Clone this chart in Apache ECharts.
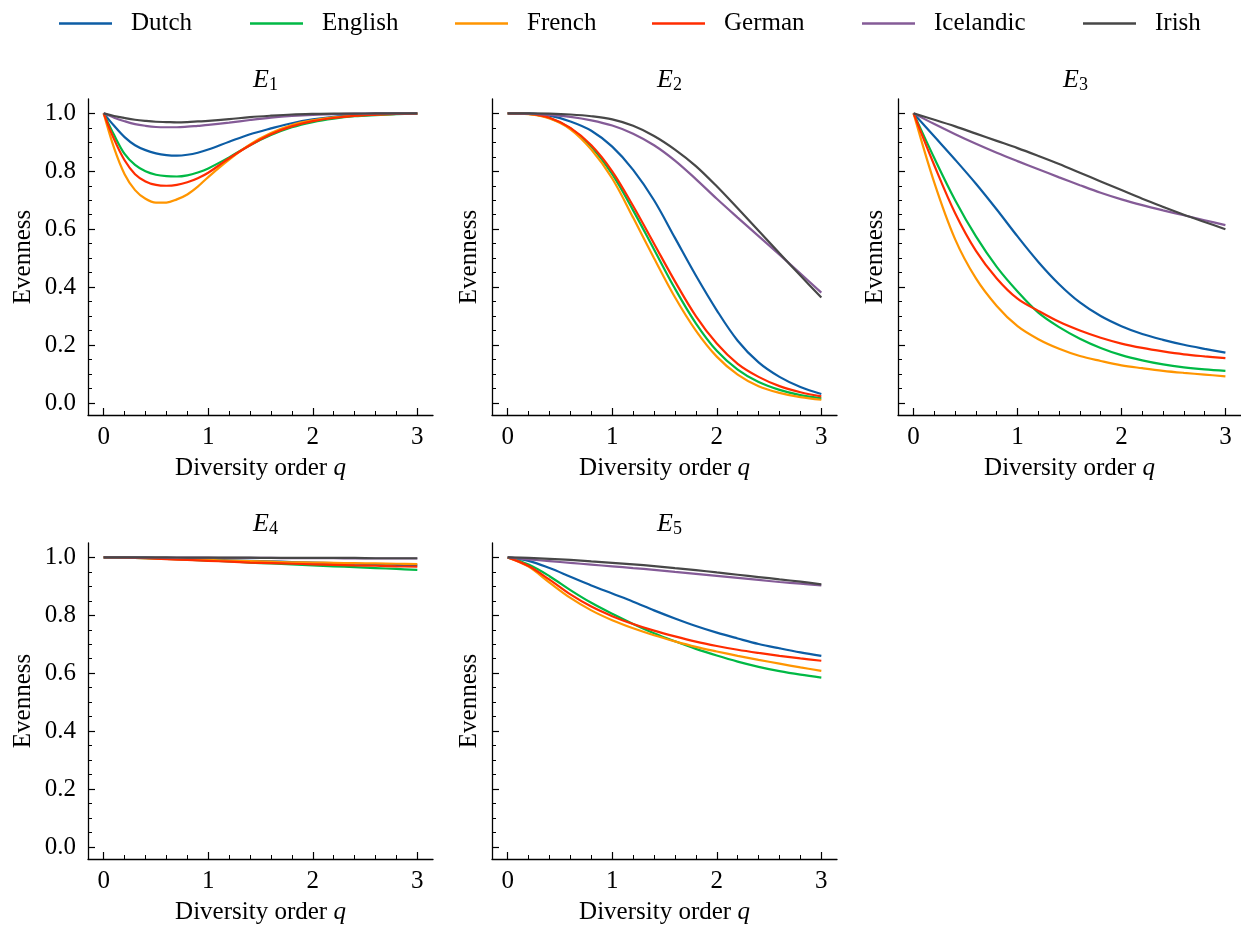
<!DOCTYPE html>
<html>
<head>
<meta charset="utf-8">
<script src="https://cdn.jsdelivr.net/npm/echarts@6/dist/echarts.min.js"></script>
</head>
<body style="margin:0">
<div id="container" style="width:1241px;height:926px"></div>
<script>
// diversity order q, read at steps of 0.2 (finer near the dip for E1)
var q = [0, 0.2, 0.4, 0.6, 0.8, 1.0, 1.2, 1.4, 1.6, 1.8, 2.0, 2.2, 2.4, 2.6, 2.8, 3.0];
var qFine = [0, 0.1, 0.2, 0.3, 0.4, 0.5, 0.6, 0.7, 0.8, 0.9, 1.0, 1.2, 1.4, 1.6, 1.8, 2.0, 2.2, 2.4, 2.6, 2.8, 3.0];
var languages = ['Dutch', 'English', 'French', 'German', 'Icelandic', 'Irish'];
var colors = ['#0C5DA5', '#00B945', '#FF9500', '#FF2C00', '#845B97', '#474747'];
var xTicks = [0, 1, 2, 3];
var yTicks = [0, 0.2, 0.4, 0.6, 0.8, 1.0];

// E1 (on qFine)
var e1Dutch     = [1.0, 0.957, 0.918, 0.89, 0.873, 0.862, 0.856, 0.854, 0.857, 0.864, 0.875, 0.902, 0.928, 0.948, 0.966, 0.979, 0.988, 0.993, 0.996, 0.998, 0.999];
var e1English   = [1.0, 0.925, 0.86, 0.822, 0.80, 0.788, 0.783, 0.782, 0.786, 0.796, 0.81, 0.848, 0.89, 0.925, 0.952, 0.97, 0.982, 0.99, 0.994, 0.997, 0.999];
var e1French    = [1.0, 0.88, 0.79, 0.735, 0.705, 0.692, 0.692, 0.703, 0.72, 0.747, 0.78, 0.84, 0.893, 0.932, 0.96, 0.976, 0.986, 0.992, 0.996, 0.998, 0.999];
var e1German    = [1.0, 0.91, 0.838, 0.79, 0.765, 0.753, 0.75, 0.753, 0.762, 0.776, 0.795, 0.845, 0.89, 0.928, 0.955, 0.973, 0.984, 0.991, 0.995, 0.998, 0.999];
var e1Icelandic = [1.0, 0.985, 0.973, 0.963, 0.957, 0.953, 0.952, 0.952, 0.954, 0.957, 0.96, 0.968, 0.977, 0.985, 0.991, 0.995, 0.997, 0.999, 1.0, 1.0, 1.0];
var e1Irish     = [1.0, 0.991, 0.984, 0.978, 0.974, 0.971, 0.970, 0.969, 0.970, 0.972, 0.974, 0.980, 0.987, 0.992, 0.996, 0.998, 0.999, 0.999, 1.0, 1.0, 1.0];

// E2
var e2Dutch     = [1.0, 0.999, 0.992, 0.972, 0.94, 0.885, 0.805, 0.70, 0.57, 0.44, 0.32, 0.215, 0.14, 0.09, 0.055, 0.031];
var e2English   = [1.0, 0.998, 0.984, 0.948, 0.885, 0.79, 0.665, 0.53, 0.395, 0.275, 0.18, 0.115, 0.072, 0.045, 0.027, 0.016];
var e2French    = [1.0, 0.997, 0.982, 0.945, 0.875, 0.775, 0.64, 0.50, 0.365, 0.25, 0.16, 0.098, 0.058, 0.035, 0.02, 0.011];
var e2German    = [1.0, 0.998, 0.985, 0.95, 0.89, 0.80, 0.68, 0.55, 0.42, 0.30, 0.205, 0.135, 0.09, 0.058, 0.037, 0.023];
var e2Icelandic = [1.0, 0.999, 0.995, 0.988, 0.976, 0.958, 0.93, 0.89, 0.837, 0.773, 0.705, 0.64, 0.576, 0.512, 0.447, 0.381];
var e2Irish     = [1.0, 1.0, 0.999, 0.996, 0.99, 0.979, 0.957, 0.922, 0.875, 0.818, 0.748, 0.672, 0.595, 0.517, 0.44, 0.364];

// E3
var e3Dutch     = [1.0, 0.92, 0.84, 0.757, 0.668, 0.575, 0.487, 0.41, 0.347, 0.30, 0.265, 0.238, 0.218, 0.201, 0.187, 0.174];
var e3English   = [1.0, 0.845, 0.70, 0.575, 0.47, 0.385, 0.312, 0.262, 0.222, 0.19, 0.165, 0.147, 0.133, 0.123, 0.116, 0.111];
var e3French    = [1.0, 0.76, 0.565, 0.43, 0.335, 0.265, 0.22, 0.187, 0.162, 0.145, 0.13, 0.12, 0.111, 0.104, 0.098, 0.092];
var e3German    = [1.0, 0.82, 0.655, 0.525, 0.43, 0.36, 0.318, 0.28, 0.25, 0.225, 0.205, 0.19, 0.178, 0.168, 0.161, 0.155];
var e3Icelandic = [1.0, 0.963, 0.928, 0.895, 0.864, 0.835, 0.807, 0.779, 0.752, 0.726, 0.703, 0.683, 0.665, 0.648, 0.631, 0.614];
var e3Irish     = [1.0, 0.978, 0.955, 0.93, 0.905, 0.88, 0.853, 0.825, 0.795, 0.765, 0.735, 0.705, 0.677, 0.65, 0.625, 0.60];

// E4
var e4Dutch     = [1.0, 0.999, 0.998, 0.996, 0.994, 0.992, 0.99, 0.988, 0.986, 0.984, 0.982, 0.98, 0.978, 0.976, 0.974, 0.972];
var e4English   = [1.0, 0.999, 0.997, 0.995, 0.992, 0.989, 0.986, 0.982, 0.979, 0.976, 0.972, 0.969, 0.966, 0.963, 0.96, 0.957];
var e4French    = [1.0, 0.999, 0.997, 0.995, 0.993, 0.991, 0.989, 0.987, 0.985, 0.983, 0.982, 0.981, 0.98, 0.979, 0.978, 0.977];
var e4German    = [1.0, 0.999, 0.997, 0.994, 0.991, 0.988, 0.985, 0.982, 0.98, 0.978, 0.976, 0.974, 0.972, 0.971, 0.969, 0.968];
var e4Icelandic = [1.0, 1.0, 1.0, 0.999, 0.999, 0.999, 0.998, 0.998, 0.998, 0.997, 0.997, 0.997, 0.996, 0.996, 0.996, 0.996];
var e4Irish     = [1.0, 1.0, 1.0, 1.0, 0.999, 0.999, 0.999, 0.999, 0.998, 0.998, 0.998, 0.998, 0.998, 0.997, 0.997, 0.997];

// E5
var e5Dutch     = [1.0, 0.988, 0.963, 0.933, 0.903, 0.875, 0.847, 0.817, 0.789, 0.763, 0.74, 0.72, 0.701, 0.686, 0.672, 0.66];
var e5English   = [1.0, 0.975, 0.935, 0.887, 0.843, 0.805, 0.77, 0.738, 0.71, 0.684, 0.661, 0.64, 0.622, 0.607, 0.595, 0.585];
var e5French    = [1.0, 0.968, 0.913, 0.86, 0.817, 0.783, 0.755, 0.731, 0.71, 0.691, 0.675, 0.66, 0.646, 0.633, 0.62, 0.608];
var e5German    = [1.0, 0.97, 0.923, 0.872, 0.83, 0.797, 0.77, 0.747, 0.727, 0.709, 0.694, 0.681, 0.67, 0.66, 0.651, 0.643];
var e5Icelandic = [1.0, 0.993, 0.987, 0.981, 0.975, 0.969, 0.963, 0.957, 0.95, 0.943, 0.936, 0.929, 0.922, 0.915, 0.909, 0.903];
var e5Irish     = [1.0, 0.998, 0.995, 0.991, 0.986, 0.981, 0.976, 0.97, 0.963, 0.956, 0.948, 0.94, 0.932, 0.924, 0.916, 0.907];

var panels = [
    [e1Dutch, e1English, e1French, e1German, e1Icelandic, e1Irish],
    [e2Dutch, e2English, e2French, e2German, e2Icelandic, e2Irish],
    [e3Dutch, e3English, e3French, e3German, e3Icelandic, e3Irish],
    [e4Dutch, e4English, e4French, e4German, e4Icelandic, e4Irish],
    [e5Dutch, e5English, e5French, e5German, e5Icelandic, e5Irish]
];
var panelQ = [qFine, q, q, q, q];

var font = 'Liberation Serif';
var cellLeft = [88, 492, 898], cellTop = [99, 543];
var cellW = 345, cellH = 316;
var legendLeft = [54, 245, 450, 647, 857, 1078];

// minor tick positions
var xMinor = [], yMinor = [];
for (var i = 1; i < 15; i++) { if (i % 5 != 0) xMinor.push(Math.round(i * 2) / 10); }
for (var i = 1; i < 20; i++) { if (i % 4 != 0) yMinor.push(Math.round(i * 5) / 100); }

var axisColor = '#000';
var grids = [], xAxes = [], yAxes = [], series = [], titles = [], legends = [];

panels.forEach(function (lines, p) {
    var col = p % 3, row = Math.floor(p / 3);
    grids.push({left: cellLeft[col], top: cellTop[row], width: cellW, height: cellH});

    xAxes.push({
        gridIndex: p, type: 'value', min: -0.15, max: 3.15, position: 'bottom',
        axisLine: {onZero: false, lineStyle: {color: axisColor, width: 1.3}},
        axisTick: {inside: true, length: 7, customValues: xTicks, lineStyle: {color: axisColor, width: 1.2}},
        axisLabel: {customValues: xTicks, margin: 10, fontFamily: font, fontSize: 25, color: '#000'},
        splitLine: {show: false},
        name: 'Diversity order {i|q}', nameLocation: 'middle', nameGap: 41,
        nameTextStyle: {fontFamily: font, fontSize: 25, color: '#000',
            rich: {i: {fontFamily: font, fontSize: 25, fontStyle: 'italic', color: '#000'}}}
    });
    xAxes.push({
        gridIndex: p, type: 'value', min: -0.15, max: 3.15, position: 'bottom',
        axisLine: {show: false, onZero: false},
        axisTick: {inside: true, length: 4, customValues: xMinor, lineStyle: {color: axisColor, width: 1}},
        axisLabel: {show: false}, splitLine: {show: false}
    });

    yAxes.push({
        gridIndex: p, type: 'value', min: -0.0416, max: 1.0496, position: 'left',
        axisLine: {show: true, onZero: false, lineStyle: {color: axisColor, width: 1.3}},
        axisTick: {show: true, inside: true, length: 7, customValues: yTicks, lineStyle: {color: axisColor, width: 1.2}},
        axisLabel: {show: col == 0, customValues: yTicks, margin: 12, fontFamily: font, fontSize: 25, color: '#000',
            formatter: function (v) { return v.toFixed(1); }},
        splitLine: {show: false},
        name: 'Evenness', nameLocation: 'middle', nameGap: col == 0 ? 52 : 10, nameRotate: 90,
        nameTextStyle: {fontFamily: font, fontSize: 25, color: '#000'}
    });
    yAxes.push({
        gridIndex: p, type: 'value', min: -0.0416, max: 1.0496, position: 'left',
        axisLine: {show: false, onZero: false},
        axisTick: {show: true, inside: true, length: 4, customValues: yMinor, lineStyle: {color: axisColor, width: 1}},
        axisLabel: {show: false}, splitLine: {show: false}
    });

    titles.push({
        text: '{e|E}{s|' + (p + 1) + '}',
        left: cellLeft[col] + cellW / 2, top: row == 0 ? 61 : 505, textAlign: 'center',
        textStyle: {fontWeight: 'normal', rich: {
            e: {fontFamily: font, fontSize: 26, fontStyle: 'italic', fontWeight: 'normal', color: '#000', lineHeight: 28},
            s: {fontFamily: font, fontSize: 18, fontWeight: 'normal', color: '#000', lineHeight: 18, verticalAlign: 'bottom'}
        }}
    });

    var xs = panelQ[p];
    lines.forEach(function (vals, k) {
        series.push({
            type: 'line', name: languages[k],
            xAxisIndex: 2 * p, yAxisIndex: 2 * p,
            data: xs.map(function (x, j) { return [x, vals[j]]; }),
            symbol: 'none', smooth: 0.35,
            lineStyle: {width: 2.2, color: colors[k]},
            itemStyle: {color: colors[k]}
        });
    });
});

languages.forEach(function (name, k) {
    legends.push({
        data: [name], left: legendLeft[k], top: 6,
        icon: 'rect', itemWidth: 53, itemHeight: 2.5, selectedMode: false,
        textStyle: {fontFamily: font, fontSize: 25, color: '#000', padding: [0, 0, 0, 14]}
    });
});

var dom = document.getElementById('container');
var myChart = echarts.init(dom);
var option = {
    animation: false,
    backgroundColor: '#fff',
    color: colors,
    title: titles,
    legend: legends,
    grid: grids,
    xAxis: xAxes,
    yAxis: yAxes,
    series: series
};
myChart.setOption(option);
</script>
</body>
</html>
